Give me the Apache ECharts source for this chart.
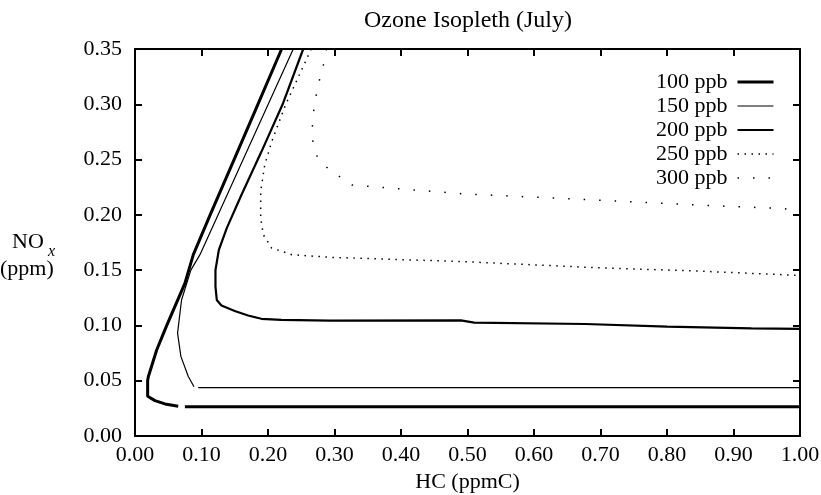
<!DOCTYPE html>
<html>
<head>
<meta charset="utf-8">
<script src="https://cdn.jsdelivr.net/npm/echarts@6/dist/echarts.min.js"></script>
<style>
html,body{margin:0;padding:0;background:#fff;}
#chart{width:821px;height:495px;}
</style>
</head>
<body>
<div id="chart"></div>
<script>
var seriesNames = ['100 ppb', '150 ppb', '200 ppb', '250 ppb', '300 ppb'];

var hc100  = [0.2205, 0.1848, 0.149, 0.113, 0.0877, 0.075, 0.0476, 0.0326, 0.020, 0.019, 0.019, 0.030, 0.045, 0.065, null, 0.075, 1.0];
var nox100 = [0.350, 0.300, 0.250, 0.200, 0.164, 0.138, 0.0998, 0.0778, 0.0536, 0.050, 0.036, 0.032, 0.029, 0.027, null, 0.0265, 0.0265];

var hc150  = [0.238, 0.2003, 0.1626, 0.125, 0.0977, 0.084, 0.070, 0.064, 0.069, 0.080, 0.0887, null, 0.095, 1.0];
var nox150 = [0.350, 0.300, 0.250, 0.200, 0.164, 0.150, 0.123, 0.093, 0.072, 0.054, 0.0446, null, 0.0437, 0.0437];

var hc200  = [0.253, 0.222, 0.190, 0.160, 0.138, 0.126, 0.121, 0.121, 0.123, 0.130, 0.150, 0.170, 0.190, 0.220, 0.293, 0.490, 0.510, 0.677, 0.800, 0.927, 1.0];
var nox200 = [0.350, 0.300, 0.257, 0.218, 0.188, 0.168, 0.150, 0.135, 0.123, 0.118, 0.113, 0.109, 0.106, 0.105, 0.1043, 0.1046, 0.1025, 0.1013, 0.0989, 0.0974, 0.0968];

var hc250  = [0.265, 0.226, 0.2055, 0.195, 0.189, 0.189, 0.193, 0.2055, 0.236, 0.293, 0.494, 0.694, 0.845, 1.0];
var nox250 = [0.350, 0.299, 0.266, 0.245, 0.221, 0.197, 0.182, 0.170, 0.164, 0.1616, 0.1577, 0.1522, 0.1492, 0.1452];

var hc300  = [0.288, 0.284, 0.278, 0.273, 0.269, 0.267, 0.2656, 0.272, 0.275, 0.292, 0.326, 0.494, 0.694, 0.845, 0.967, 1.0];
var nox300 = [0.350, 0.337, 0.3235, 0.310, 0.296, 0.282, 0.2707, 0.257, 0.2505, 0.241, 0.227, 0.219, 0.2134, 0.2089, 0.2059, 0.2045];

var xMin = 0, xMax = 1.0, xStep = 0.1;
var yMin = 0, yMax = 0.35, yStep = 0.05;

function pairs(xs, ys) {
  var out = [];
  for (var i = 0; i < xs.length; i++) {
    if (xs[i] === null || ys[i] === null) out.push(['-', '-']);
    else out.push([xs[i], ys[i]]);
  }
  return out;
}

var FONT = 'Liberation Serif';
var styles = [
  {width: 3, type: 'solid'},
  {width: 1.2, type: 'solid'},
  {width: 2.2, type: 'solid'},
  {width: 1.5, type: [1.5, 5.5]},
  {width: 1.5, type: [1.5, 14]}
];
var dataSets = [pairs(hc100, nox100), pairs(hc150, nox150), pairs(hc200, nox200), pairs(hc250, nox250), pairs(hc300, nox300)];

var series = seriesNames.map(function (n, i) {
  return {
    name: n,
    type: 'line',
    data: dataSets[i],
    symbol: 'none',
    showSymbol: false,
    smooth: false,
    connectNulls: false,
    animation: false,
    lineStyle: {color: '#000', width: styles[i].width, type: styles[i].type},
    itemStyle: {color: 'rgba(0,0,0,0)', borderWidth: 0}
  };
});

var legendData = seriesNames.map(function (n, i) {
  return {
    name: n,
    itemStyle: {color: 'rgba(0,0,0,0)', borderWidth: 0},
    lineStyle: {color: '#000', width: styles[i].width, type: styles[i].type}
  };
});

var axisCommonX = {
  type: 'value', min: xMin, max: xMax, interval: xStep,
  axisLine: {show: true, onZero: false, lineStyle: {color: '#000', width: 2}},
  axisTick: {show: true, inside: true, length: 7, lineStyle: {color: '#000', width: 2}},
  splitLine: {show: false}
};
var axisCommonY = {
  type: 'value', min: yMin, max: yMax, interval: yStep,
  axisLine: {show: true, onZero: false, lineStyle: {color: '#000', width: 2}},
  axisTick: {show: true, inside: true, length: 7, lineStyle: {color: '#000', width: 2}},
  splitLine: {show: false}
};

var chart = echarts.init(document.getElementById('chart'), null, {renderer: 'canvas'});
chart.setOption({
  backgroundColor: '#fff',
  animation: false,
  textStyle: {fontFamily: FONT, color: '#000'},
  title: {
    text: 'Ozone Isopleth (July)',
    left: 463, top: 4, textAlign: 'center',
    textStyle: {fontFamily: FONT, fontSize: 24, fontWeight: 'normal', color: '#000'}
  },
  grid: {left: 135, right: 21, top: 49, bottom: 59, containLabel: false, outerBoundsMode: 'none'},
  legend: {
    orient: 'vertical', align: 'right', right: 41, top: 66,
    itemWidth: 36, itemHeight: 14, itemGap: 2,
    itemStyle: {color: 'rgba(0,0,0,0)', borderWidth: 0},
    textStyle: {fontFamily: FONT, fontSize: 22, color: '#000', padding: [0, 5, 0, 0]},
    data: legendData
  },
  xAxis: [
    Object.assign({}, axisCommonX, {
      position: 'bottom',
      name: 'HC (ppmC)', nameLocation: 'middle', nameGap: 34,
      nameTextStyle: {fontFamily: FONT, fontSize: 22, color: '#000'},
      axisLabel: {show: true, margin: 8, fontFamily: FONT, fontSize: 22, color: '#000',
        formatter: function (v) { return v.toFixed(2); }}
    }),
    Object.assign({}, axisCommonX, {position: 'top', axisLabel: {show: false}})
  ],
  yAxis: [
    Object.assign({}, axisCommonY, {
      position: 'left',
      axisLabel: {show: true, margin: 13, fontFamily: FONT, fontSize: 22, color: '#000',
        formatter: function (v) { return v.toFixed(2); }}
    }),
    Object.assign({}, axisCommonY, {position: 'right', axisLabel: {show: false}})
  ],
  graphic: [
    {type: 'text', left: 12, top: 231, style: {text: 'NO', font: '22px "Liberation Serif"', fill: '#000'}},
    {type: 'text', left: 48, top: 244, style: {text: 'x', font: 'italic 16px "Liberation Serif"', fill: '#000'}},
    {type: 'text', left: 0, top: 258, style: {text: '(ppm)', font: '22px "Liberation Serif"', fill: '#000'}}
  ],
  series: series
});
</script>
</body>
</html>
